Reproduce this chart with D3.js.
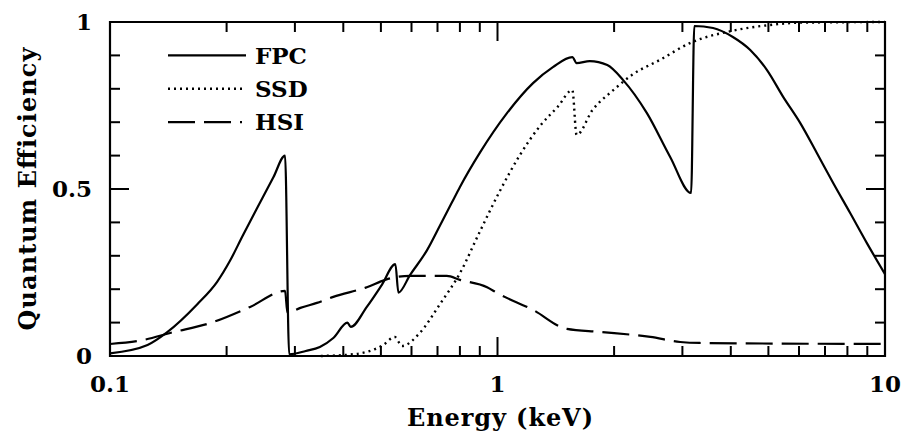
<!DOCTYPE html>
<html>
<head>
<meta charset="utf-8">
<script src="https://cdn.jsdelivr.net/npm/d3@7"></script>
</head>
<body style="margin:0">
<script>
// energies (keV) and quantum efficiencies
var fpcEnergy = [0.1, 0.125, 0.14, 0.168, 0.189, 0.204, 0.22, 0.239, 0.264, 0.283, 0.29,
                 0.32, 0.348, 0.377, 0.41, 0.418, 0.46, 0.503, 0.545, 0.555, 0.595, 0.658,
                 0.71, 0.763, 0.8, 0.9, 1.058, 1.235, 1.39, 1.56, 1.6, 1.73, 1.92, 2.11,
                 2.43, 2.79, 3.16, 3.22, 3.6, 4.05, 4.49, 4.96, 5.46, 6.04, 6.67, 7.35,
                 8.13, 8.98, 10];
var fpcQE = [0.008, 0.033, 0.07, 0.155, 0.222, 0.285, 0.36, 0.44, 0.535, 0.6, 0.005,
             0.015, 0.027, 0.054, 0.1, 0.087, 0.147, 0.213, 0.275, 0.19, 0.243, 0.317,
             0.39, 0.46, 0.506, 0.608, 0.727, 0.817, 0.865, 0.895, 0.877, 0.883, 0.871, 0.826,
             0.727, 0.596, 0.488, 0.988, 0.982, 0.955, 0.916, 0.856, 0.776, 0.698, 0.608, 0.518,
             0.428, 0.338, 0.245];

var ssdEnergy = [0.35, 0.43, 0.507, 0.543, 0.567, 0.63, 0.71, 0.8, 0.9, 1.01, 1.14, 1.29,
                 1.43, 1.56, 1.6, 1.76, 1.99, 2.24, 2.62, 3.14, 4.05, 4.96, 6.04, 10];
var ssdQE = [0.0, 0.006, 0.033, 0.057, 0.03, 0.069, 0.155, 0.248, 0.372, 0.49, 0.6, 0.69,
             0.746, 0.796, 0.662, 0.737, 0.796, 0.844, 0.886, 0.937, 0.974, 0.99, 0.998, 1.0];

var hsiEnergy = [0.1, 0.122, 0.143, 0.185, 0.23, 0.283, 0.287, 0.31, 0.342, 0.377, 0.46,
                 0.513, 0.55, 0.595, 0.74, 0.8, 0.94, 1.0, 1.235, 1.51, 1.84, 2.48, 2.96,
                 3.33, 10];
var hsiQE = [0.036, 0.048, 0.069, 0.102, 0.147, 0.195, 0.129, 0.144, 0.159, 0.177, 0.206,
             0.228, 0.237, 0.24, 0.24, 0.228, 0.206, 0.188, 0.138, 0.081, 0.072, 0.057, 0.042,
             0.039, 0.036];

// tick values and legend entries
var xMajor = [0.1, 1, 10];
var xMinor = [0.2, 0.3, 0.4, 0.5, 0.6, 0.7, 0.8, 0.9, 2, 3, 4, 5, 6, 7, 8, 9];
var yMajor = [0, 0.5, 1];
var yMinor = [0.1, 0.2, 0.3, 0.4, 0.6, 0.7, 0.8, 0.9];
var seriesNames = ["FPC", "SSD", "HSI"];

var svg = d3.select("body")
            .append("svg")
            .attr("width", 903)
            .attr("height", 433);

var xScale = d3.scaleLog()
               .domain([0.1, 10])
               .range([110, 885]);
var yScale = d3.scaleLinear()
               .domain([0, 1])
               .range([356, 22]);

var font = "'DejaVu Serif', serif";

// frame
svg.append("path")
   .attr("d", "M110,22H885V356H110Z")
   .attr("fill", "none")
   .attr("stroke", "#000")
   .attr("stroke-width", 2.2);

// inward ticks on all four sides, one line element per tick
try {
    var tickRows = [];
    xMajor.forEach(function(v){ tickRows.push({ v: v, len: 19, axis: "x" }); });
    xMinor.forEach(function(v){ tickRows.push({ v: v, len: 10, axis: "x" }); });
    yMajor.forEach(function(v){ tickRows.push({ v: v, len: 19, axis: "y" }); });
    yMinor.forEach(function(v){ tickRows.push({ v: v, len: 10, axis: "y" }); });

    var tickG = svg.append("g").attr("class", "ticks");
    tickRows.forEach(function(t){
        var ends = [];
        if (t.axis === "x") {
            var px = Math.round(xScale(t.v) * 10) / 10;
            ends.push([px, 356, px, 356 - t.len]);
            ends.push([px, 22, px, 22 + t.len]);
        } else {
            var py = Math.round(yScale(t.v) * 10) / 10;
            ends.push([110, py, 110 + t.len, py]);
            ends.push([885, py, 885 - t.len, py]);
        }
        ends.forEach(function(e){
            tickG.append("line")
                 .attr("x1", e[0]).attr("y1", e[1])
                 .attr("x2", e[2]).attr("y2", e[3])
                 .attr("stroke", "#000")
                 .style("stroke", "#000")
                 .attr("stroke-width", 2);
        });
    });
} catch (err) {
    svg.append("text").attr("x", 300).attr("y", 200).text("tick error: " + err.message);
}

// tick labels
svg.selectAll("text.xlab")
   .data(xMajor)
   .enter()
   .append("text")
   .attr("class", "xlab")
   .attr("x", function(d){ return xScale(d); })
   .attr("y", 392)
   .attr("text-anchor", "middle")
   .style("font-family", font)
   .style("font-weight", "bold")
   .style("font-size", "23px")
   .text(function(d){ return d === 0.1 ? "0.1" : String(d); });

svg.selectAll("text.ylab")
   .data(yMajor)
   .enter()
   .append("text")
   .attr("class", "ylab")
   .attr("x", 92)
   .attr("y", function(d){ return yScale(d); })
   .attr("dy", "0.36em")
   .attr("text-anchor", "end")
   .style("font-family", font)
   .style("font-weight", "bold")
   .style("font-size", "23px")
   .text(function(d){ return String(d); });

// line styles per detector
var dashes = { FPC: null, SSD: "2,4", HSI: "27,9" };
var widths = { FPC: 2.2, SSD: 2.4, HSI: 2.2 };

var lineGen = d3.line()
                .x(function(d){ return xScale(d[0]); })
                .y(function(d){ return yScale(d[1]); })
                .curve(d3.curveMonotoneX);

var series = [
    { name: "FPC", data: d3.zip(fpcEnergy, fpcQE) },
    { name: "SSD", data: d3.zip(ssdEnergy, ssdQE) },
    { name: "HSI", data: d3.zip(hsiEnergy, hsiQE) }
];

svg.selectAll("path.curve")
   .data(series)
   .enter()
   .append("path")
   .attr("class", "curve")
   .attr("d", function(d){ return lineGen(d.data); })
   .attr("fill", "none")
   .attr("stroke", "#000")
   .attr("stroke-width", function(d){ return widths[d.name]; })
   .attr("stroke-dasharray", function(d){ return dashes[d.name]; })
   .attr("stroke-linejoin", "round");

// legend, rows lined up with the 0.9, 0.8 and 0.7 ticks
var legend = svg.selectAll("g.legend")
                .data(seriesNames)
                .enter()
                .append("g")
                .attr("class", "legend")
                .attr("transform", function(d, i){
                    return "translate(168," + yScale(0.9 - i * 0.1) + ")";
                });
legend.append("line")
      .attr("x1", 0)
      .attr("x2", function(d){ return d === "HSI" ? 74 : 78; })
      .attr("stroke", "#000")
      .attr("stroke-width", function(d){ return widths[d]; })
      .attr("stroke-dasharray", function(d){ return dashes[d]; });
legend.append("text")
      .attr("x", 87)
      .attr("dy", "0.36em")
      .style("font-family", font)
      .style("font-weight", "bold")
      .style("font-size", "23px")
      .text(function(d){ return d; });

// axis titles
svg.append("text")
   .attr("x", 500)
   .attr("y", 426)
   .attr("text-anchor", "middle")
   .attr("textLength", 186)
   .attr("lengthAdjust", "spacing")
   .style("font-family", font)
   .style("font-weight", "bold")
   .style("font-size", "24px")
   .text("Energy (keV)");

svg.append("text")
   .attr("transform", "translate(36,189) rotate(-90)")
   .attr("text-anchor", "middle")
   .attr("textLength", 283)
   .attr("lengthAdjust", "spacing")
   .style("font-family", font)
   .style("font-weight", "bold")
   .style("font-size", "24px")
   .text("Quantum Efficiency");
</script>
</body>
</html>
